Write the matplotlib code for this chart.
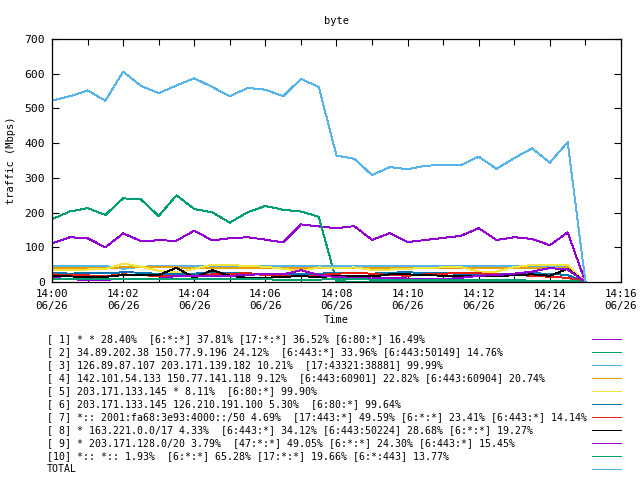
import matplotlib
matplotlib.use('Agg')
import matplotlib.pyplot as plt
import matplotlib.dates as mdates
from matplotlib.lines import Line2D
import pandas as pd

# sample times (30 s steps)
times = ['14:00:00', '14:00:30', '14:01:00', '14:01:30', '14:02:00', '14:02:30',
         '14:03:00', '14:03:30', '14:04:00', '14:04:30', '14:05:00', '14:05:30',
         '14:06:00', '14:06:30', '14:07:00', '14:07:30', '14:08:00', '14:08:30',
         '14:09:00', '14:09:30', '14:10:00', '14:10:30', '14:11:00', '14:11:30',
         '14:12:00', '14:12:30', '14:13:00', '14:13:30', '14:14:00', '14:14:30',
         '14:15:00']

# traffic per flow group, Mbps
s1 = [111, 129, 126, 100, 140, 118, 120, 119, 148, 120, 126, 129, 122, 114, 166, 160,
      155, 161, 121, 141, 115, 121, 127, 133, 155, 121, 129, 124, 106, 143, 0]
s2 = [181, 203, 213, 193, 241, 238, 190, 250, 210, 201, 171, 201, 219, 208, 203, 188,
      2, 1, 1, 1, 1, 1, 1, 1, 1, 1, 1, 1, 1, 1, 0]
s3 = [46, 47, 47, 46, 38, 44, 46, 46, 46, 47, 47, 46, 46, 46, 47, 47,
      46, 46, 46, 46, 46, 46, 46, 46, 46, 46, 46, 46, 46, 46, 0]
s4 = [40, 40, 41, 41, 42, 42, 42, 42, 41, 41, 41, 41, 41, 41, 41, 41,
      40, 40, 40, 40, 40, 40, 40, 40, 40, 40, 40, 40, 40, 42, 0]
s5 = [33, 35, 36, 37, 53, 44, 32, 27, 38, 50, 49, 46, 44, 38, 32, 42,
      40, 42, 35, 36, 38, 41, 42, 43, 30, 30, 43, 49, 48, 50, 0]
s6 = [27, 24, 26, 25, 28, 27, 23, 22, 24, 28, 26, 25, 23, 22, 24, 24,
      26, 26, 24, 27, 28, 26, 25, 24, 22, 22, 24, 25, 24, 20, 0]
s7 = [22, 20, 19, 17, 22, 20, 17, 16, 18, 22, 24, 25, 20, 18, 16, 20,
      24, 26, 24, 20, 18, 22, 24, 26, 25, 22, 20, 18, 15, 12, 0]
s8 = [18, 16, 15, 15, 20, 20, 20, 41, 12, 34, 18, 12, 12, 15, 17, 14,
      18, 18, 16, 22, 22, 20, 18, 18, 16, 16, 20, 22, 18, 38, 0]
s9 = [12, 8, 6, 6, 10, 10, 9, 18, 18, 16, 18, 20, 24, 22, 34, 20,
      14, 12, 10, 12, 10, 10, 8, 12, 18, 20, 24, 30, 40, 36, 0]
s10 = [10, 10, 9, 9, 8, 8, 8, 10, 10, 9, 10, 10, 8, 6, 6, 7,
       8, 8, 7, 7, 6, 6, 6, 6, 6, 5, 5, 4, 4, 4, 0]
total = [523, 535, 552, 522, 606, 565, 544, 566, 587, 562, 535, 559, 554, 535, 585, 562,
         364, 355, 308, 331, 325, 335, 337, 337, 361, 326, 357, 385, 344, 403, 0]

labels = [
    '[ 1] * * 28.40%  [6:*:*] 37.81% [17:*:*] 36.52% [6:80:*] 16.49%',
    '[ 2] 34.89.202.38 150.77.9.196 24.12%  [6:443:*] 33.96% [6:443:50149] 14.76%',
    '[ 3] 126.89.87.107 203.171.139.182 10.21%  [17:43321:38881] 99.99%',
    '[ 4] 142.101.54.133 150.77.141.118 9.12%  [6:443:60901] 22.82% [6:443:60904] 20.74%',
    '[ 5] 203.171.133.145 * 8.11%  [6:80:*] 99.90%',
    '[ 6] 203.171.133.145 126.210.191.100 5.30%  [6:80:*] 99.64%',
    '[ 7] *:: 2001:fa68:3e93:4000::/50 4.69%  [17:443:*] 49.59% [6:*:*] 23.41% [6:443:*] 14.14%',
    '[ 8] * 163.221.0.0/17 4.33%  [6:443:*] 34.12% [6:443:50224] 28.68% [6:*:*] 19.27%',
    '[ 9] * 203.171.128.0/20 3.79%  [47:*:*] 49.05% [6:*:*] 24.30% [6:443:*] 15.45%',
    '[10] *:: *:: 1.93%  [6:*:*] 65.28% [17:*:*] 19.66% [6:*:443] 13.77%',
    'TOTAL',
]
colors = ['#9400d3', '#009e73', '#56b4e9', '#e69f00', '#f0e442', '#0072b2',
          '#e51e10', '#000000', '#9400d3', '#009e73', '#56b4e9']

series = [s1, s2, s3, s4, s5, s6, s7, s8, s9, s10, total]
t = pd.to_datetime(['2023-06-26 ' + s for s in times])

plt.rcParams['font.family'] = ['DejaVu Sans Mono']

fig = plt.figure(figsize=(6.4, 4.8), dpi=100)
ax = fig.add_axes([52 / 640, 1 - 282 / 480, 569 / 640, 243 / 480])

for vals, c in zip(series, colors):
    ax.plot(t, vals, color=c, linewidth=0.7, antialiased=False)

ax.set_xlim(pd.Timestamp('2023-06-26 14:00'), pd.Timestamp('2023-06-26 14:16'))
ax.set_ylim(0, 700)
ax.set_yticks(range(0, 701, 100))
ax.xaxis.set_major_locator(mdates.MinuteLocator(byminute=range(0, 60, 2)))
ax.xaxis.set_minor_locator(mdates.MinuteLocator())
ax.xaxis.set_major_formatter(mdates.DateFormatter('%H:%M\n%m/%d'))
ax.tick_params(which='both', direction='in', top=True, right=True, width=0.8)
ax.tick_params(which='major', length=5, pad=5)
ax.tick_params(which='minor', length=4)
ax.tick_params(axis='y', labelsize=8.2)
ax.tick_params(axis='x', labelsize=7.8)
for sp in ax.spines.values():
    sp.set_linewidth(0.9)

ax.set_title('byte', fontsize=7.5, pad=11)
ax.set_xlabel('Time', fontsize=7.5, labelpad=3)
ax.set_ylabel('traffic (Mbps)', fontsize=7.5, labelpad=6)

# key below the plot
for i, (lab, c) in enumerate(zip(labels, colors)):
    y = 1 - (339 + 13 * i) / 480
    fig.text(47 / 640, y, lab, ha='left', va='center', fontsize=7.1)
    fig.add_artist(Line2D([592 / 640, 621 / 640], [y, y], color=c, linewidth=0.7,
                          antialiased=False, transform=fig.transFigure))

fig.savefig('out.png', dpi=100)
